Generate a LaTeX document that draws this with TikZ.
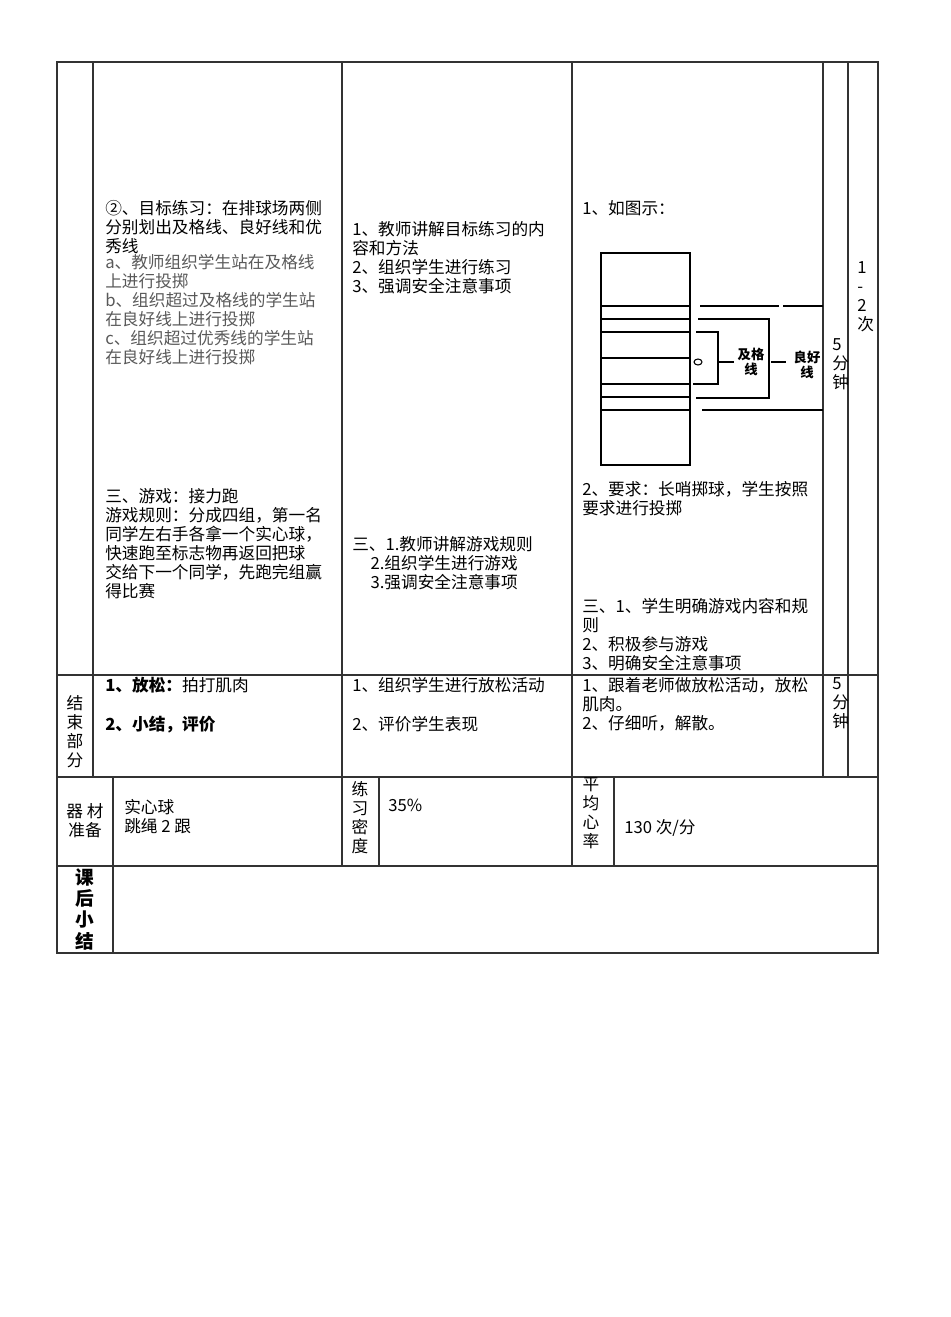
\documentclass[tikz,border=0pt]{standalone}
\usepackage{fontspec}
\setmainfont{Noto Sans CJK SC}
\XeTeXlinebreaklocale "zh"
\begin{document}
\begin{tikzpicture}[x=0.75pt,y=-0.75pt,
  grid/.style={draw=black!80,line width=0.8pt},
  txt/.style={anchor=north west,inner sep=0pt,align=left,font=\fontsize{12.5}{14.25}\selectfont},
  gtxt/.style={txt,text=black!65},
  ctr/.style={inner sep=0pt,align=center,font=\fontsize{12.5}{14.25}\selectfont},
  sk/.style={line width=0.8pt},
  sktxt/.style={inner sep=0pt,align=center,font=\fontsize{10}{11}\selectfont\bfseries}]
\useasboundingbox (0,0) rectangle (950,1317);
% grid
\draw[grid] (57,62) rectangle (878,953);
\draw[grid] (57,675) -- (878,675) (57,777) -- (878,777) (57,866) -- (878,866);
\foreach \x in {93,342,572,823,848}{\draw[grid] (\x,62) -- (\x,777);}
\foreach \x in {113,342,379,572,614}{\draw[grid] (\x,777) -- (\x,866);}
\draw[grid] (113,866) -- (113,953);
% column 2 top
\node[txt] (a1) at (105,200) {②、目标练习：在排球场两侧\\分别划出及格线、良好线和优\\秀线};
\node[gtxt] (a2) at (105,254) {a、教师组织学生站在及格线\\上进行投掷\\b、组织超过及格线的学生站\\在良好线上进行投掷\\c、组织超过优秀线的学生站\\在良好线上进行投掷};
\node[txt] (a3) at (105,488) {三、游戏：接力跑\\游戏规则：分成四组，第一名\\同学左右手各拿一个实心球，\\快速跑至标志物再返回把球\\交给下一个同学，先跑完组赢\\得比赛};
% column 3 top
\node[txt] (b1) at (352,221) {1、教师讲解目标练习的内\\容和方法\\2、组织学生进行练习\\3、强调安全注意事项};
\node[txt] (b2) at (352,536) {三、1.教师讲解游戏规则\\\hspace*{1.1em}2.组织学生进行游戏\\\hspace*{1.1em}3.强调安全注意事项};
% column 4 top
\node[txt] (c1) at (582,200) {1、如图示：};
\node[txt] (c2) at (582,481) {2、要求：长哨掷球，学生按照\\要求进行投掷};
\node[txt] (c3) at (582,598) {三、1、学生明确游戏内容和规\\则\\2、积极参与游戏\\3、明确安全注意事项};
% column 5/6
\node[txt] (d1) at (832,338) {5\\分\\钟};
\node[txt] (e1) at (857,261) {1\\-\\2\\次};
% sketch
\draw[sk] (601,253) rectangle (690,465);
\foreach \y in {306,319,332,358,384,397,410}{\draw[sk] (601,\y) -- (690,\y);}
\draw[sk] (700,306) -- (779,306) (783,306) -- (823,306);
\draw[sk] (698,319) -- (769,319) -- (769,398) -- (696,398);
\draw[sk] (771,362) -- (786,362);
\draw[sk] (696,332) -- (718,332) -- (718,384) -- (693,384);
\draw[sk] (719,362) -- (734,362);
\draw[sk] (702,410) -- (823,410);
\draw[sk] (698,362) ellipse (4 and 3);
\node[sktxt] (s1) at (751,362) {及格\\线};
\node[sktxt] (s2) at (807,365) {良好\\线};
% row 2
\node[ctr] (f1) at (75,732) {结\\束\\部\\分};
\node[txt] (f2) at (105,677) {\textbf{1、放松：}拍打肌肉};
\node[txt] (f3) at (105,716) {\textbf{2、小结，评价}};
\node[txt] (g1) at (352,677) {1、组织学生进行放松活动};
\node[txt] (g2) at (352,716) {2、评价学生表现};
\node[txt] (h1) at (582,677) {1、跟着老师做放松活动，放松\\肌肉。\\2、仔细听，解散。};
\node[txt] (i1) at (832,677) {5\\分\\钟};
% row 3
\node[ctr] (j1) at (85,821) {器 材\\准备};
\node[txt] (j2) at (124,799) {实心球\\跳绳 2 跟};
\node[ctr] (k1) at (360,818) {练\\习\\密\\度};
\node[txt] (k2) at (388,799) {35\%};
\node[ctr] (l1) at (591,813) {平\\均\\心\\率};
\node[txt] (l2) at (624,819) {130 次/分};
% row 4
\node[ctr,font=\fontsize{14}{16}\selectfont\bfseries] (m1) at (85,909) {课\\后\\小\\结};
\end{tikzpicture}
\end{document}
